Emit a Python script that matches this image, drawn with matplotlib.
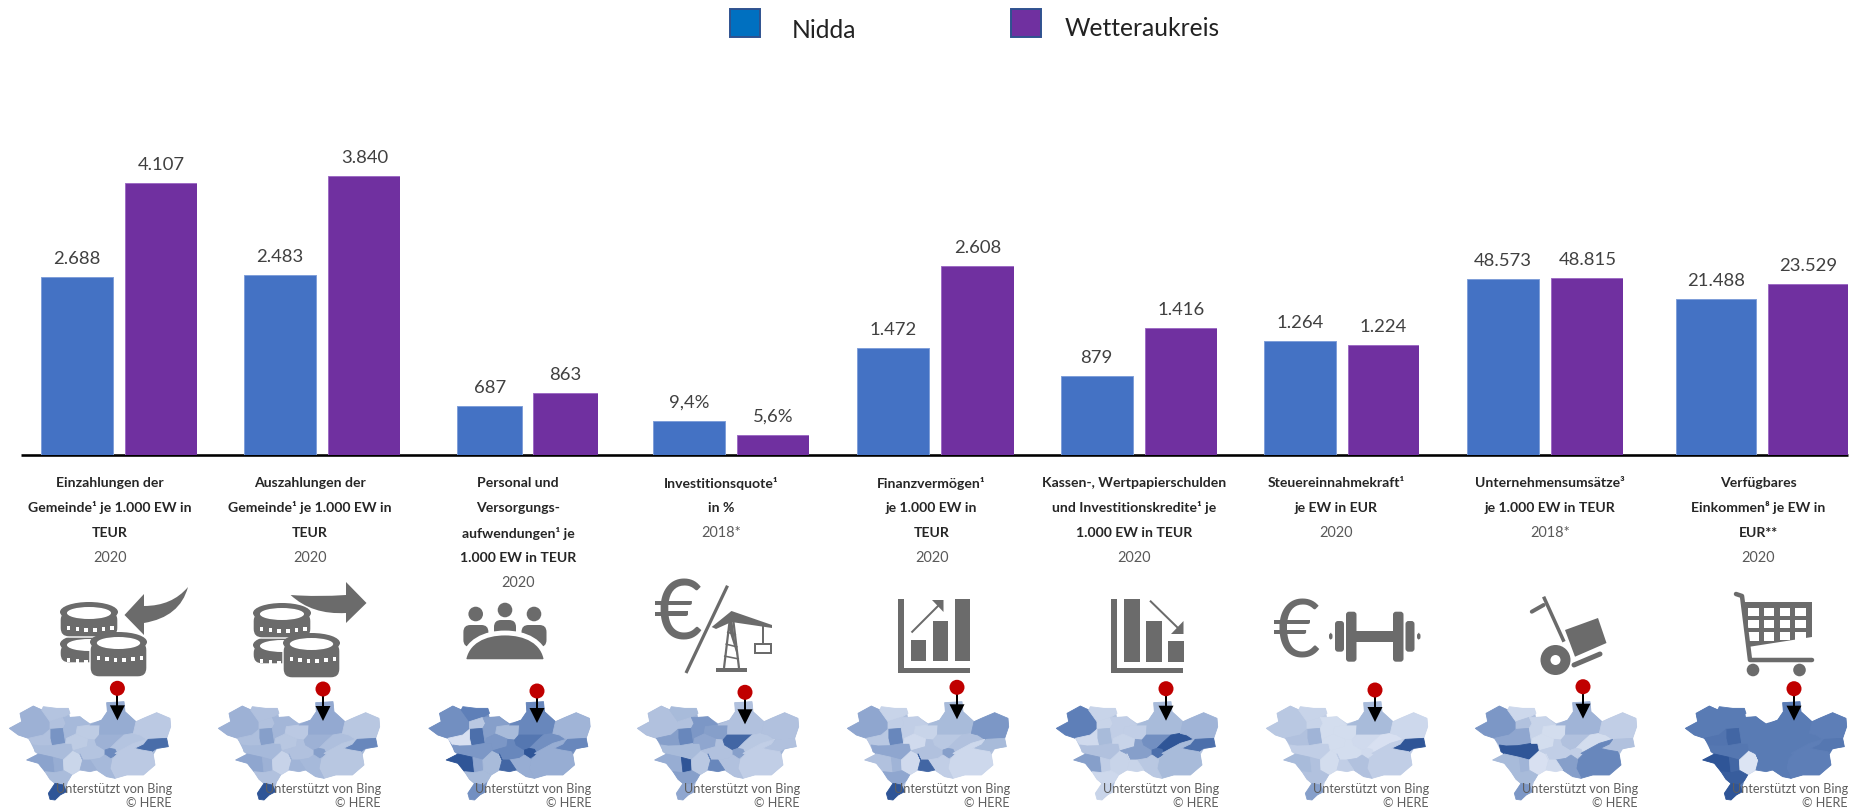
import matplotlib
matplotlib.use('Agg')
import matplotlib.pyplot as plt
import numpy as np
from matplotlib.colors import LinearSegmentedColormap
from matplotlib.patches import Circle, Ellipse, FancyBboxPatch, PathPatch, Polygon, Rectangle
from matplotlib.path import Path

# --- chart data, one chart per indicator ---
SERIES_NAMES = ['Nidda', 'Wetteraukreis']
NIDDA = [2688, 2483, 687, 9.4, 1472, 879, 1264, 48573, 21488]
WETTERAU = [4107, 3840, 863, 5.6, 2608, 1416, 1224, 48815, 23529]
NIDDA_LABELS = ['2.688', '2.483', '687', '9,4%', '1.472', '879', '1.264', '48.573', '21.488']
WETTERAU_LABELS = ['4.107', '3.840', '863', '5,6%', '2.608', '1.416', '1.224', '48.815', '23.529']
AXIS_MAX = [6040, 5505, 5568, 110.6, 5520, 4460, 4435, 110316, 55038]

TITLES = [
    ['Einzahlungen der', 'Gemeinde¹ je 1.000 EW in', 'TEUR'],
    ['Auszahlungen der', 'Gemeinde¹ je 1.000 EW in', 'TEUR'],
    ['Personal und', 'Versorgungs-', 'aufwendungen¹ je', '1.000 EW in TEUR'],
    ['Investitionsquote¹', 'in %'],
    ['Finanzvermögen¹', 'je 1.000 EW in', 'TEUR'],
    ['Kassen-, Wertpapierschulden', 'und Investitionskredite¹ je', '1.000 EW in TEUR'],
    ['Steuereinnahmekraft¹', 'je EW in EUR'],
    ['Unternehmensumsätze³', 'je 1.000 EW in TEUR'],
    ['Verfügbares', 'Einkommen⁸ je EW in', 'EUR**'],
]
YEARS = ['2020', '2020', '2020', '2018*', '2020', '2020', '2020', '2018*', '2020']

# shade of each municipality (0 light .. 1 dark) per small map
MAP_SHADES = [
    [.42, .28, .30, .62, .30, .34, .52, .45, .14, .34, 1.0, .36, .22, .22, .28, .46, .42, .28, .68, .24, .86, .24, .36, .42],
    [.42, .30, .30, .55, .32, .36, .50, .42, .16, .30, 1.0, .38, .24, .26, .30, .48, .42, .32, .55, .26, .70, .26, .36, .40],
    [.65, .75, .25, .85, .05, .60, 1.0, .50, .35, .35, .65, .55, .35, .60, .70, .70, .80, .65, 1.0, .40, .70, .45, .45, .90],
    [.30, .35, .30, .70, .55, .35, .45, 1.0, .25, .55, .50, .60, .55, .50, .30, .30, .90, .25, .55, .30, .30, .20, .30, .70],
    [.50, .15, .20, .70, .25, .50, .30, .40, .10, .50, 1.0, .20, .15, .10, .30, .35, .25, .30, .55, .60, .35, .12, .20, .90],
    [.75, .15, .15, .35, .10, .30, .55, .20, .15, .12, .15, .20, .20, .15, .55, .35, .65, 1.0, .85, .40, .85, .35, .25, .15],
    [.25, .15, .15, .40, .30, .20, .35, .30, .08, .30, .55, .08, .08, .08, .08, .35, .10, .05, .10, .12, 1.0, .20, .30, .20],
    [.60, .12, .30, .50, .50, 1.0, .35, .40, .05, .35, .60, .15, .08, .08, .20, .40, .30, .08, .20, .20, .30, .70, .55, .10],
    [.78, .78, .78, .90, .82, .80, 1.0, .90, .02, .95, 1.0, .78, .78, .78, .78, .78, .78, .78, .78, .76, .80, .76, .78, .78],
]

# --- layout in reference pixels ---
W, H = 1856, 808
BASELINE = 455
AXES_PX = 400
PANEL_LEFT = [41, 244, 457.5, 653.5, 857, 1060.5, 1264, 1467, 1676]
PANEL_RIGHT = [197, 400.5, 597.5, 809, 1013.5, 1217, 1419.5, 1623.5, 1848]
TITLE_X = [110, 309.6, 518, 721, 931.6, 1134, 1336, 1550, 1758]
PIN_X = [117.4, 323, 537, 745, 957, 1166, 1375, 1583, 1794]
PIN_Y = [688.3, 689, 691, 692.3, 687.3, 688.7, 690, 686.7, 688.7]
MAP_DX = [0, 209, 419.5, 628, 838, 1047, 1257, 1466, 1676]

BLUE, PURPLE, GREY = '#4472C4', '#7030A0', '#6B6B6B'
LATO = ['Lato', 'DejaVu Sans']
PX = 0.72  # one pixel in points at dpi 100

# municipality outlines of the map, in 3x pixels of the first map
OUTLINE = [(28, 145), (65, 125), (60, 100), (100, 78), (125, 88), (170, 85), (205, 85), (210, 112), (240, 110), (270, 130),
           (305, 120), (322, 95), (320, 68), (372, 65), (375, 95), (408, 125), (430, 115), (470, 98), (510, 115), (512, 140),
           (500, 175), (505, 200), (470, 208), (460, 225), (465, 255), (430, 285), (380, 285), (345, 295), (320, 290),
           (290, 270), (240, 270), (215, 285), (205, 302), (195, 335), (165, 360), (145, 340), (165, 312), (150, 298),
           (135, 275), (115, 250), (80, 240), (115, 222), (105, 215), (85, 175), (55, 165)]
REGIONS = [
    [(28, 145), (65, 125), (60, 100), (100, 78), (125, 90), (150, 125), (150, 148), (130, 165), (85, 175), (55, 165)],
    [(125, 90), (130, 80), (170, 85), (205, 85), (210, 100), (190, 112), (150, 125)],
    [(150, 125), (190, 112), (198, 130), (190, 145), (150, 148)],
    [(150, 148), (190, 145), (197, 190), (155, 197), (150, 175)],
    [(85, 175), (130, 165), (150, 148), (150, 175), (155, 197), (120, 198), (100, 195)],
    [(100, 195), (120, 198), (155, 197), (197, 190), (215, 190), (220, 212), (190, 240), (160, 232), (115, 222), (105, 215)],
    [(80, 240), (115, 222), (160, 232), (165, 278), (135, 275), (115, 250)],
    [(160, 232), (190, 240), (192, 272), (165, 278)],
    [(192, 272), (190, 240), (220, 212), (240, 222), (248, 240), (240, 270), (215, 285)],
    [(135, 275), (165, 278), (192, 272), (215, 285), (205, 302), (190, 315), (165, 310), (150, 298)],
    [(145, 340), (165, 310), (190, 315), (200, 335), (180, 345), (165, 360), (150, 358)],
    [(198, 130), (190, 112), (210, 112), (240, 110), (270, 135), (232, 140), (228, 162), (200, 175), (197, 190), (190, 145)],
    [(232, 140), (270, 135), (300, 135), (298, 165), (285, 180), (265, 178), (228, 162)],
    [(200, 175), (228, 162), (265, 178), (262, 200), (220, 212), (215, 190), (197, 190)],
    [(220, 212), (262, 200), (265, 178), (285, 180), (290, 195), (315, 210), (315, 225), (300, 235), (270, 240), (248, 240), (240, 222)],
    [(270, 135), (305, 120), (322, 95), (320, 68), (372, 65), (375, 95), (408, 125), (400, 160), (350, 165), (298, 165), (300, 135)],
    [(298, 165), (350, 165), (372, 165), (350, 185), (330, 205), (315, 210), (290, 195), (285, 180)],
    [(350, 185), (372, 165), (400, 160), (420, 165), (440, 178), (400, 190), (345, 220), (345, 208), (330, 205)],
    [(315, 210), (330, 205), (345, 208), (352, 222), (330, 235), (315, 225)],
    [(408, 125), (430, 115), (470, 98), (510, 115), (512, 140), (500, 175), (470, 178), (440, 178), (420, 165), (400, 160)],
    [(403, 205), (430, 192), (445, 178), (500, 175), (505, 200), (470, 205), (455, 215), (425, 210)],
    [(345, 220), (400, 190), (440, 178), (430, 192), (403, 205), (425, 210), (455, 215), (460, 225), (465, 255), (430, 285), (380, 285), (345, 295), (330, 265), (335, 240), (352, 222)],
    [(300, 235), (315, 225), (330, 235), (335, 240), (330, 265), (345, 295), (320, 290), (290, 270), (270, 240)],
    [(240, 222), (248, 240), (270, 240), (290, 270), (270, 275), (240, 270), (248, 240)],
]
CMAP = LinearSegmentedColormap.from_list('map', ['#DFE6F4', '#B9C8E2', '#8FA6CF', '#5F80B8', '#2F5597'])


def curve(ax, verts, codes, color=GREY):
    ax.add_patch(PathPatch(Path(verts, codes), fc=color, ec='none', zorder=3))


def coin_stack(ax, x, y, w, h):
    # rounded body, then white rim on top and little notches round the edge
    ax.add_patch(FancyBboxPatch((x, y + 8), w, h - 8, boxstyle='round,pad=0,rounding_size=9', fc=GREY, ec='white', lw=1, zorder=3))
    ax.add_patch(Ellipse((x + w / 2, y + 9), w, 20, fc=GREY, ec='none', zorder=3))
    ax.add_patch(Ellipse((x + w / 2, y + 10), w * 0.76, 12, fc='white', ec='none', zorder=3))
    for i in np.arange(0.12, 0.95, 0.15):
        yy = y + 21 + 4 * (1 - abs(2 * i - 1) ** 2)
        ax.add_patch(Rectangle((x + w * i, yy), 3.5, 4, fc='white', ec='none', zorder=3))


def coins(ax, dx, dy):
    coin_stack(ax, 60 + dx, 635 + dy, 58, 28)
    coin_stack(ax, 60 + dx, 603 + dy, 58, 34)
    coin_stack(ax, 90 + dx, 633 + dy, 57, 44)


def icon_in(ax):
    coins(ax, 0, 0)
    M, L, C, Z = Path.MOVETO, Path.LINETO, Path.CURVE3, Path.CLOSEPOLY
    curve(ax, [(124.5, 615), (144, 594), (144, 606), (172, 606), (188, 587), (180, 617), (144, 623), (144, 635), (124.5, 615)],
          [M, L, L, C, C, C, C, L, Z])


def icon_out(ax):
    coins(ax, 193, 1)
    M, L, C, Z = Path.MOVETO, Path.LINETO, Path.CURVE3, Path.CLOSEPOLY
    curve(ax, [(290.6, 595), (318, 597), (346, 595), (346, 582), (366.5, 603), (346, 623), (346, 613), (312, 615), (290.6, 595)],
          [M, C, C, L, L, L, L, C, C])


def icon_people(ax):
    for cx, cy in [(475.7, 614), (505, 610), (534, 614)]:
        ax.add_patch(Circle((cx, cy), 7.3, fc=GREY, ec='none', zorder=3))
    for x, y, w in [(463.4, 625, 25), (494, 620, 22), (521.5, 625, 25)]:
        ax.add_patch(FancyBboxPatch((x, y), w, 22, boxstyle='round,pad=0,rounding_size=7', fc=GREY, ec='none', zorder=3))
    M, C, Z = Path.MOVETO, Path.CURVE4, Path.CLOSEPOLY
    dome = Path([(463.4, 661.7), (466, 641), (485, 633), (505, 633), (525, 633), (544, 641), (546.5, 661.7), (463.4, 661.7)],
                [M, C, C, C, C, C, C, Z])
    ax.add_patch(PathPatch(dome, fc=GREY, ec='white', lw=3.5, zorder=3))
    ax.add_patch(Rectangle((460, 662.5), 90, 6, fc='white', ec='none', zorder=3))


def euro(ax, cx, cy, size):
    ax.text(cx, cy, '€', fontsize=size * PX, family=LATO, color=GREY, ha='center', va='center', zorder=3)


def seg(ax, x0, y0, x1, y1, lw, color=GREY, cap='butt'):
    ax.plot([x0, x1], [y0, y1], color=color, lw=lw * PX, solid_capstyle=cap, zorder=3)


def icon_crane(ax):
    euro(ax, 678, 617, 84)
    seg(ax, 727.5, 585.7, 686, 673, 3.2)
    ax.add_patch(Polygon([(731, 611), (724, 670), (739, 670)], closed=True, fc=GREY, ec='none', zorder=3))
    ax.add_patch(Polygon([(729, 630), (722, 668), (741, 668)], closed=True, fc='white', ec='none', zorder=3))
    seg(ax, 729.5, 622, 724, 668, 2.2)
    seg(ax, 733.5, 622, 739, 668, 2.2)
    for y, hw in [(632, 4.5), (644, 6), (656, 7.5)]:
        seg(ax, 731.5 - hw, y, 731.5 + hw, y + 3, 1.6)
    seg(ax, 716, 670, 747, 670, 4)
    ax.add_patch(Polygon([(711.7, 627), (731.5, 611), (772, 625), (772, 628), (731.5, 622), (716, 629)], closed=True, fc=GREY, ec='none', zorder=3))
    seg(ax, 763, 626, 763, 643, 2)
    ax.add_patch(Rectangle((755, 644), 16.5, 9, fc='white', ec=GREY, lw=2 * PX, zorder=3))


def icon_growth(ax):
    ax.add_patch(Rectangle((898, 599), 6, 74, fc=GREY, ec='none', zorder=3))
    ax.add_patch(Rectangle((898, 668), 72, 5, fc=GREY, ec='none', zorder=3))
    for x, y in [(910.6, 640), (932.8, 621), (955, 599)]:
        ax.add_patch(Rectangle((x, y), 15.5, 661 - y, fc=GREY, ec='none', zorder=3))
    seg(ax, 911.5, 632.5, 940, 604, 2)
    ax.add_patch(Polygon([(943.5, 600), (932, 600), (943.5, 612)], closed=True, fc=GREY, ec='none', zorder=3))


def icon_decline(ax):
    ax.add_patch(Rectangle((1111.5, 599), 6, 74, fc=GREY, ec='none', zorder=3))
    ax.add_patch(Rectangle((1111.5, 668), 72, 5, fc=GREY, ec='none', zorder=3))
    for x, y in [(1124, 599), (1146, 621), (1168, 640.7)]:
        ax.add_patch(Rectangle((x, y), 15.7, 661.5 - y, fc=GREY, ec='none', zorder=3))
    seg(ax, 1150, 600.7, 1179, 629, 2)
    ax.add_patch(Polygon([(1183.5, 634), (1183.5, 621), (1171, 634)], closed=True, fc=GREY, ec='none', zorder=3))


def icon_dumbbell(ax):
    euro(ax, 1297, 634, 82)
    ax.add_patch(Rectangle((1354, 630.7), 42, 11, fc=GREY, ec='none', zorder=3))
    for x, y0, y1, w in [(1346, 611.7, 661.7, 10.5), (1393, 611.7, 661.7, 10.5), (1335, 621, 651.7, 9), (1405.5, 621, 651.7, 9), (1329, 632.7, 640, 3.5), (1417, 632.7, 640, 3.5)]:
        ax.add_patch(FancyBboxPatch((x, y0), w, y1 - y0, boxstyle='round,pad=0,rounding_size=3', fc=GREY, ec='none', zorder=3))


def icon_truck(ax):
    seg(ax, 1543.6, 596.7, 1564, 641.7, 3.5)
    seg(ax, 1531.8, 611.7, 1543.6, 605, 4, cap='round')
    ax.add_patch(Polygon([(1565, 630), (1598, 618), (1606.5, 643), (1575, 656.7)], closed=True, fc=GREY, ec='none', zorder=3))
    ax.add_patch(Ellipse((1555.5, 660), 30, 30, fc=GREY, ec='none', zorder=3))
    ax.add_patch(Circle((1555.5, 660), 5, fc='white', ec='none', zorder=3))
    seg(ax, 1574, 665, 1600, 654, 5, cap='round')


def icon_cart(ax):
    ax.add_patch(Polygon([(1744, 602), (1812, 602), (1812, 637), (1748, 647)], closed=True, fc=GREY, ec='none', zorder=3))
    for x in [1748.5, 1764, 1780, 1795.5]:
        for y, h in [(608, 8), (620, 7.5), (632, 9)]:
            ax.add_patch(Rectangle((x, y), 10.5, h - (1.2 if y == 632 and x > 1770 else 0), fc='white', ec='none', zorder=3))
    ax.plot([1736, 1742, 1750, 1812], [594, 596, 660, 660], color=GREY, lw=4.5 * PX, solid_capstyle='round', solid_joinstyle='round', zorder=3)
    for x in [1753, 1799.5]:
        ax.add_patch(Circle((x, 670), 6.3, fc=GREY, ec='none', zorder=3))


ICONS = [icon_in, icon_out, icon_people, icon_crane, icon_growth, icon_decline, icon_dumbbell, icon_truck, icon_cart]


def draw_map(ax, dx, shades, pin_x, pin_y):
    # underlay closes the small gaps between the hand traced outlines
    base = [(x / 3 + dx, y / 3 + 680) for x, y in OUTLINE]
    ax.add_patch(Polygon(base, closed=True, fc=CMAP(float(np.median(shades))), ec='none', zorder=2))
    for poly, s in zip(REGIONS, shades):
        pts = [(x / 3 + dx, y / 3 + 680) for x, y in poly]
        ax.add_patch(Polygon(pts, closed=True, fc=CMAP(s), ec=CMAP(s), lw=0.6, joinstyle='round', zorder=2))
    ax.text(172 + dx, 789, 'Unterstützt von Bing', fontsize=12.6 * PX, family=LATO, color='#5E5E5E', ha='right', va='center', zorder=4)
    ax.text(172 + dx, 803, '© HERE', fontsize=12.6 * PX, family=LATO, color='#5E5E5E', ha='right', va='center', zorder=4)
    seg(ax, pin_x, pin_y, pin_x, pin_y + 20, 2, color='black')
    ax.add_patch(Polygon([(pin_x - 7.5, pin_y + 17), (pin_x + 7.5, pin_y + 17), (pin_x, pin_y + 32)], closed=True, fc='black', ec='none', zorder=5))
    ax.add_patch(Ellipse((pin_x, pin_y), 15, 15, fc='#C00000', ec='none', zorder=6))


fig = plt.figure(figsize=(W / 100, H / 100), dpi=100, facecolor='white')

# pixel overlay for everything around the bars
ov = fig.add_axes([0, 0, 1, 1], zorder=0)
ov.set_xlim(0, W)
ov.set_ylim(H, 0)
ov.axis('off')
ov.plot([21, 1848], [455, 455], color='black', lw=2.6 * PX, solid_capstyle='butt')

# legend
for x, y, name, color, tx, ty in [(730, 9, SERIES_NAMES[0], '#0070C0', 792, 31), (1011, 9, SERIES_NAMES[1], PURPLE, 1065, 28)]:
    ov.add_patch(Rectangle((x, y), 30, 28, fc=color, ec='#2F528F', lw=1.4))
    ov.text(tx, ty, name, fontsize=24.6 * PX, family=LATO, color='#222222', ha='left', va='center')

for i in range(9):
    left, right = PANEL_LEFT[i], PANEL_RIGHT[i]
    ax = fig.add_axes([left / W, 1 - BASELINE / H, (right - left) / W, AXES_PX / H], zorder=1)
    ax.patch.set_alpha(0)
    ax.axis('off')
    ax.set_xlim(-0.43, 1.43)
    ax.set_ylim(0, AXIS_MAX[i])
    bars = ax.bar([0, 1], [NIDDA[i], WETTERAU[i]], width=0.86, color=[BLUE, PURPLE],
                  edgecolor=['#7F9FD9', '#9E6CC4'], linewidth=0.7)
    for b, txt in zip(bars, [NIDDA_LABELS[i], WETTERAU_LABELS[i]]):
        ax.annotate(txt, (b.get_x() + b.get_width() / 2, b.get_height()), xytext=(0, 10 * PX),
                    textcoords='offset points', ha='center', va='bottom',
                    fontsize=18.5 * PX, family=LATO, color='#404040')

    # category text, one row per line
    y = 483
    for line in TITLES[i]:
        ov.text(TITLE_X[i], y, line, fontsize=14 * PX, family=LATO, weight='bold', color='#262626', ha='center', va='center')
        y += 25
    ov.text(TITLE_X[i], y, YEARS[i], fontsize=14.5 * PX, family=LATO, color='#595959', ha='center', va='center')

    ICONS[i](ov)
    draw_map(ov, MAP_DX[i], MAP_SHADES[i], PIN_X[i], PIN_Y[i])

fig.savefig('out.png', dpi=100)
